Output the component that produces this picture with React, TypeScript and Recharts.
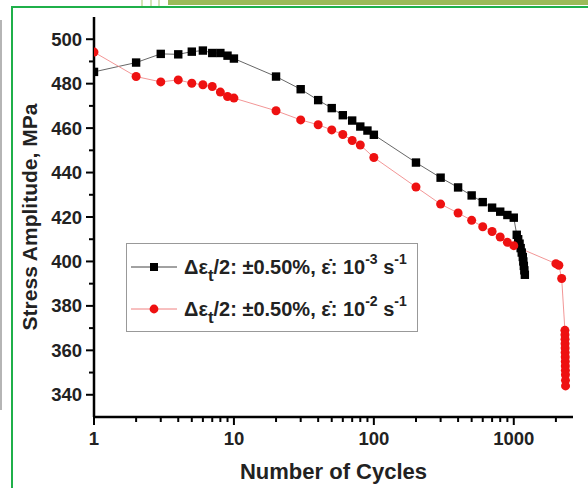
import React from "react";
import { LineChart, Line, XAxis, YAxis } from "recharts";

const cyclesSlow = [1, 2, 3, 4, 5, 6, 7, 8, 9, 10, 20, 30, 40, 50, 60, 70, 80, 90, 100, 200, 300, 400, 500, 600, 700, 800, 900, 1000, 1050, 1075, 1100, 1120, 1140, 1160, 1170, 1180, 1190, 1200];
const stressSlow = [485.3, 489.5, 493.4, 493.2, 494.4, 494.9, 493.8, 493.8, 492.6, 491.3, 483.2, 477.5, 472.6, 469, 465.8, 463.4, 460.7, 458.9, 457, 444.5, 437.7, 433.3, 429.7, 426.7, 424.2, 422.4, 420.9, 419.7, 412, 410, 408, 406, 404, 402, 400, 398, 396, 394];

const cyclesFast = [1, 2, 3, 4, 5, 6, 7, 8, 9, 10, 20, 30, 40, 50, 60, 70, 80, 100, 200, 300, 400, 500, 600, 700, 800, 900, 1000, 2000, 2100, 2200, 2320, 2322, 2324, 2326, 2328, 2330, 2332, 2334, 2336, 2338, 2340, 2342, 2344];
const stressFast = [494.2, 483.2, 480.8, 481.7, 480.2, 479.5, 478.7, 476.2, 474.2, 473.5, 467.8, 463.7, 461.5, 459.2, 457.1, 454.4, 452.4, 446.8, 433.5, 425.8, 421.8, 418.5, 415.6, 413.5, 411, 408.6, 407.1, 399, 398.3, 392.3, 369, 367, 365, 363, 361, 359, 357, 355, 353, 351, 349, 346.5, 344];

const xMajorTicks = [1, 10, 100, 1000];
const xAllTicks = [1, 2, 3, 4, 5, 6, 7, 8, 9, 10, 20, 30, 40, 50, 60, 70, 80, 90, 100, 200, 300, 400, 500, 600, 700, 800, 900, 1000, 2000];
const yMajorTicks = [340, 360, 380, 400, 420, 440, 460, 480, 500];
const yAllTicks = [340, 350, 360, 370, 380, 390, 400, 410, 420, 430, 440, 450, 460, 470, 480, 490, 500];

const slowData = cyclesSlow.map((c, i) => ({ n: c, s: stressSlow[i] }));
const fastData = cyclesFast.map((c, i) => ({ n: c, s: stressFast[i] }));

const FONT = "'Liberation Sans', Arial, sans-serif";

const XTick = (props: any) => {
  const { x, y, payload } = props;
  const v = payload.value;
  const major = xMajorTicks.includes(v);
  return (
    <g>
      <line x1={x} x2={x} y1={y} y2={y + (major ? 8 : 5)} stroke="#000" strokeWidth={2} />
      {major && (
        <text x={x} y={y + 28} textAnchor="middle" fontFamily={FONT} fontWeight="bold" fontSize={18.5} fill="#222">
          {v}
        </text>
      )}
    </g>
  );
};

const YTick = (props: any) => {
  const { x, y, payload } = props;
  const v = payload.value;
  const major = yMajorTicks.includes(v);
  return (
    <g>
      <line x1={x} x2={x - (major ? 8 : 5)} y1={y} y2={y} stroke="#000" strokeWidth={2} />
      {major && (
        <text x={x - 12} y={y + 6.5} textAnchor="end" fontFamily={FONT} fontWeight="bold" fontSize={18.5} fill="#222">
          {v}
        </text>
      )}
    </g>
  );
};

const SquareDot = (props: any) => {
  const { cx, cy, index } = props;
  return <rect key={"sq" + index} x={cx - 4.2} y={cy - 4.2} width={8.4} height={8.4} fill="#000" />;
};

const CircleDot = (props: any) => {
  const { cx, cy, index } = props;
  return <circle key={"ci" + index} cx={cx} cy={cy} r={4.5} fill="#ee1111" />;
};

const LegendRow = ({ kind, exp }: { kind: "sq" | "ci"; exp: string }) => (
  <div style={{ display: "flex", alignItems: "center", height: 42 }}>
    <svg width={50} height={20} style={{ flex: "none" }}>
      <line x1={2} x2={48} y1={10} y2={10} stroke={kind === "sq" ? "#444" : "#f08080"} strokeWidth={1} />
      {kind === "sq" ? <rect x={21} y={6} width={8} height={8} fill="#000" /> : <circle cx={25} cy={10} r={4.4} fill="#ee1111" />}
    </svg>
    <span style={{ marginLeft: 5, fontFamily: FONT, fontWeight: "bold", fontSize: 20, color: "#222", whiteSpace: "nowrap" }}>
      Δε<sub style={{ fontSize: 17, verticalAlign: -7, lineHeight: 0 }}>t</sub>/2: ±0.50%, ε̇: 10
      <sup style={{ fontSize: 14, verticalAlign: 10, lineHeight: 0 }}>{exp}</sup> s
      <sup style={{ fontSize: 14, verticalAlign: 10, lineHeight: 0 }}>-1</sup>
    </span>
  </div>
);

const LegendBox = () => (
  <div
    style={{
      position: "absolute",
      left: 126,
      top: 243,
      width: 292,
      height: 89,
      border: "1px solid #999",
      background: "#fff",
      boxSizing: "border-box",
      paddingTop: 2,
      paddingLeft: 2,
    }}
  >
    <LegendRow kind="sq" exp="-3" />
    <LegendRow kind="ci" exp="-2" />
  </div>
);

export default function App() {
  return (
    <div style={{ position: "absolute", left: 0, top: 0, width: 588, height: 488, background: "#fff", overflow: "hidden" }}>
      <div style={{ position: "absolute", left: 0, top: 20, width: 2, height: 390, background: "#b5b5b5" }} />
      <div style={{ position: "absolute", left: 168, top: 0, width: 420, height: 5, background: "#9bbb59" }} />
      <div style={{ position: "absolute", left: 141, top: 0, width: 2, height: 6, background: "#d5e3b5" }} />
      <div style={{ position: "absolute", left: 150, top: 0, width: 2, height: 6, background: "#d5e3b5" }} />
      <div style={{ position: "absolute", left: 158, top: 0, width: 2, height: 6, background: "#d5e3b5" }} />
      <div style={{ position: "absolute", left: 11, top: 6, width: 577, height: 2, background: "#1fb04a" }} />
      <div style={{ position: "absolute", left: 11, top: 6, width: 2, height: 482, background: "#1fb04a" }} />
      <div style={{ position: "absolute", left: 0, top: 0 }}>
        <LineChart width={588} height={488} margin={{ top: 17, right: 15, bottom: 0, left: 0 }}>
          <XAxis
            xAxisId="b"
            dataKey="n"
            type="number"
            scale="log"
            domain={[1, 2650]}
            allowDataOverflow
            ticks={xAllTicks}
            interval={0}
            tickSize={0}
            tickMargin={0}
            tickLine={false}
            tick={<XTick />}
            axisLine={{ stroke: "#000", strokeWidth: 2.5 }}
            height={71}
            label={{ value: "Number of Cycles", position: "center", dy: 19, style: { fontFamily: FONT, fontWeight: "bold", fontSize: 22, fill: "#222" } }}
          />
          <XAxis
            xAxisId="t"
            orientation="top"
            dataKey="n"
            type="number"
            scale="log"
            domain={[1, 2650]}
            allowDataOverflow
            tick={false}
            tickLine={false}
            height={0}
            axisLine={{ stroke: "#000", strokeWidth: 2.5 }}
          />
          <YAxis
            yAxisId="l"
            type="number"
            domain={[330, 510]}
            allowDataOverflow
            ticks={yAllTicks}
            interval={0}
            tickSize={0}
            tickMargin={0}
            tickLine={false}
            tick={<YTick />}
            width={94}
            axisLine={{ stroke: "#000", strokeWidth: 2.5 }}
            label={{ value: "Stress Amplitude, MPa", angle: -90, position: "center", dx: -17, style: { fontFamily: FONT, fontWeight: "bold", fontSize: 21, fill: "#222" } }}
          />
          <YAxis
            yAxisId="r"
            orientation="right"
            type="number"
            domain={[330, 510]}
            allowDataOverflow
            tick={false}
            tickLine={false}
            width={0}
            axisLine={{ stroke: "#000", strokeWidth: 2.5 }}
          />
          <Line
            xAxisId="b"
            yAxisId="l"
            data={slowData}
            dataKey="s"
            stroke="#555"
            strokeWidth={0.9}
            dot={<SquareDot />}
            activeDot={false}
            isAnimationActive={false}
          />
          <Line
            xAxisId="b"
            yAxisId="l"
            data={fastData}
            dataKey="s"
            stroke="#f08a8a"
            strokeWidth={0.9}
            dot={<CircleDot />}
            activeDot={false}
            isAnimationActive={false}
          />
        </LineChart>
      </div>
      <LegendBox />
    </div>
  );
}
